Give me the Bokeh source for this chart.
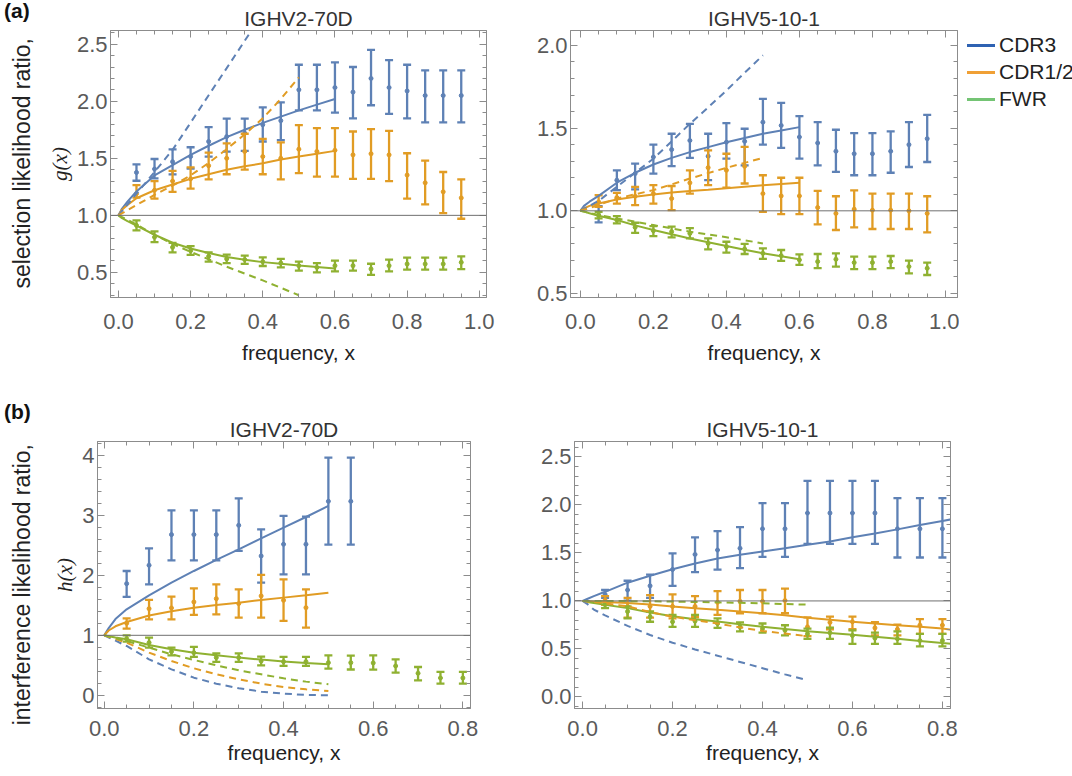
import numpy as np
from bokeh.plotting import figure
from bokeh.models import (Range1d, FixedTicker, LinearAxis, Span, Div,
                          PrintfTickFormatter, ColumnDataSource)
from bokeh.layouts import column, row
from bokeh.embed import file_html
from bokeh.resources import INLINE

# ---------------- data ----------------
SERIES = ["CDR3", "CDR1/2", "FWR"]
COLORS = {"CDR3": "#5E81B5", "CDR1/2": "#E19C24", "FWR": "#8FB131"}
LEGEND_COLORS = {"CDR3": "#2E62B2", "CDR1/2": "#F0A035", "FWR": "#74C474"}

X_A = [0.05, 0.10, 0.15, 0.20, 0.25, 0.30, 0.35, 0.40, 0.45, 0.50,
       0.55, 0.60, 0.65, 0.70, 0.75, 0.80, 0.85, 0.90, 0.95]
X_B = [0.05, 0.10, 0.15, 0.20, 0.25, 0.30, 0.35, 0.40,
       0.45, 0.50, 0.55, 0.60, 0.65, 0.70, 0.75, 0.80]

# (a) IGHV2-70D  selection likelihood ratio g(x)
a1_cdr3_c = [1.376, 1.406, 1.47, 1.515, 1.647, 1.69, 1.72, 1.794, 1.83, 2.10, 2.10, 2.12, 2.08, 2.20, 2.12, 2.09, 2.05, 2.05, 2.05]
a1_cdr3_lo = [1.303, 1.324, 1.359, 1.41, 1.515, 1.559, 1.565, 1.647, 1.66, 1.92, 1.92, 1.90, 1.85, 1.965, 1.89, 1.85, 1.815, 1.815, 1.815]
a1_cdr3_hi = [1.447, 1.494, 1.579, 1.597, 1.774, 1.847, 1.847, 1.947, 1.99, 2.32, 2.32, 2.34, 2.30, 2.45, 2.36, 2.32, 2.27, 2.27, 2.27]
a1_cdr12_c = [1.19, 1.22, 1.30, 1.32, 1.435, 1.50, 1.56, 1.515, 1.50, 1.58, 1.56, 1.57, 1.53, 1.54, 1.53, 1.353, 1.285, 1.206, 1.153]
a1_cdr12_lo = [1.156, 1.147, 1.206, 1.235, 1.315, 1.36, 1.40, 1.36, 1.315, 1.37, 1.34, 1.34, 1.32, 1.32, 1.30, 1.147, 1.097, 1.02, 0.97]
a1_cdr12_hi = [1.265, 1.30, 1.39, 1.42, 1.55, 1.63, 1.715, 1.67, 1.64, 1.79, 1.765, 1.765, 1.735, 1.756, 1.74, 1.544, 1.48, 1.38, 1.315]
a1_fwr_c = [0.912, 0.809, 0.72, 0.69, 0.641, 0.618, 0.612, 0.594, 0.582, 0.559, 0.544, 0.559, 0.559, 0.53, 0.559, 0.574, 0.574, 0.574, 0.588]
a1_fwr_lo = [0.868, 0.765, 0.676, 0.653, 0.594, 0.582, 0.574, 0.556, 0.544, 0.515, 0.50, 0.509, 0.515, 0.479, 0.509, 0.524, 0.524, 0.524, 0.529]
a1_fwr_hi = [0.956, 0.859, 0.759, 0.73, 0.676, 0.656, 0.647, 0.632, 0.618, 0.594, 0.582, 0.603, 0.603, 0.576, 0.612, 0.629, 0.629, 0.629, 0.641]

a1_fit_x = [0, 0.01, 0.025, 0.05, 0.1, 0.15, 0.2, 0.25, 0.3, 0.35, 0.4, 0.45, 0.5, 0.55, 0.6]
a1_cdr3_fit = [1.0, 1.06, 1.12, 1.21, 1.35, 1.44, 1.53, 1.61, 1.685, 1.75, 1.81, 1.865, 1.92, 1.97, 2.02]
a1_cdr12_fit = [1.0, 1.05, 1.09, 1.15, 1.22, 1.27, 1.32, 1.36, 1.40, 1.43, 1.456, 1.49, 1.515, 1.54, 1.565]
a1_fwr_fit = [1.0, 0.975, 0.95, 0.91, 0.83, 0.76, 0.71, 0.67, 0.635, 0.61, 0.59, 0.575, 0.56, 0.548, 0.535]
a1_dash_x = [0, 0.05, 0.1, 0.15, 0.2, 0.25, 0.3, 0.35, 0.4, 0.45, 0.5]
a1_cdr3_dash = [1.0, 1.19, 1.38, 1.574, 1.812, 2.053, 2.29, 2.53, 2.77, 3.0, 3.2]
a1_cdr12_dash = [1.0, 1.09, 1.18, 1.26, 1.35, 1.46, 1.58, 1.71, 1.85, 2.02, 2.21]
a1_fwr_dash = [1.0, 0.92, 0.83, 0.75, 0.68, 0.615, 0.55, 0.49, 0.43, 0.365, 0.30]

# (a) IGHV5-10-1
a2_cdr3_c = [0.974, 1.185, 1.225, 1.325, 1.37, 1.425, 1.33, 1.415, 1.42, 1.536, 1.516, 1.446, 1.41, 1.36, 1.345, 1.345, 1.36, 1.40, 1.436]
a2_cdr3_lo = [0.93, 1.125, 1.13, 1.225, 1.27, 1.32, 1.185, 1.315, 1.275, 1.40, 1.38, 1.315, 1.275, 1.235, 1.215, 1.215, 1.23, 1.265, 1.295]
a2_cdr3_hi = [1.028, 1.245, 1.285, 1.40, 1.466, 1.526, 1.466, 1.53, 1.496, 1.677, 1.653, 1.572, 1.536, 1.49, 1.47, 1.47, 1.48, 1.536, 1.58]
a2_cdr12_c = [1.054, 1.08, 1.088, 1.104, 1.074, 1.169, 1.261, 1.245, 1.269, 1.104, 1.09, 1.09, 1.02, 0.984, 1.01, 1.004, 1.004, 1.0, 0.984]
a2_cdr12_lo = [1.024, 1.044, 1.034, 1.044, 1.004, 1.104, 1.155, 1.14, 1.165, 0.994, 0.98, 0.98, 0.918, 0.884, 0.90, 0.89, 0.89, 0.89, 0.87]
a2_cdr12_hi = [1.094, 1.108, 1.145, 1.155, 1.15, 1.245, 1.365, 1.345, 1.386, 1.215, 1.2, 1.2, 1.12, 1.088, 1.124, 1.104, 1.104, 1.104, 1.088]
a2_fwr_c = [0.974, 0.944, 0.90, 0.88, 0.874, 0.863, 0.803, 0.783, 0.769, 0.743, 0.729, 0.703, 0.693, 0.707, 0.687, 0.687, 0.693, 0.663, 0.653]
a2_fwr_lo = [0.954, 0.924, 0.867, 0.847, 0.84, 0.833, 0.767, 0.747, 0.739, 0.709, 0.697, 0.673, 0.653, 0.663, 0.647, 0.647, 0.653, 0.622, 0.612]
a2_fwr_hi = [0.994, 0.968, 0.928, 0.908, 0.904, 0.895, 0.833, 0.813, 0.80, 0.773, 0.763, 0.737, 0.739, 0.743, 0.723, 0.723, 0.727, 0.699, 0.687]

a2_fit_x = [0, 0.01, 0.025, 0.05, 0.1, 0.15, 0.2, 0.25, 0.3, 0.35, 0.4, 0.45, 0.5, 0.55, 0.6]
a2_cdr3_fit = [1.0, 1.03, 1.055, 1.09, 1.17, 1.23, 1.28, 1.32, 1.355, 1.385, 1.415, 1.44, 1.466, 1.485, 1.506]
a2_cdr12_fit = [1.0, 1.015, 1.03, 1.044, 1.068, 1.085, 1.098, 1.11, 1.12, 1.128, 1.137, 1.146, 1.155, 1.162, 1.169]
a2_fwr_fit = [1.0, 0.995, 0.985, 0.97, 0.944, 0.912, 0.884, 0.858, 0.833, 0.81, 0.787, 0.765, 0.743, 0.725, 0.707]
a2_dash_x = [0, 0.05, 0.1, 0.15, 0.2, 0.25, 0.3, 0.35, 0.4, 0.45, 0.5]
a2_cdr3_dash = [1.0, 1.06, 1.145, 1.23, 1.315, 1.42, 1.526, 1.625, 1.727, 1.835, 1.94]
a2_cdr12_dash = [1.0, 1.035, 1.074, 1.10, 1.125, 1.16, 1.195, 1.228, 1.26, 1.29, 1.32]
a2_fwr_dash = [1.0, 0.975, 0.954, 0.934, 0.914, 0.894, 0.874, 0.857, 0.84, 0.822, 0.803]

# (b) IGHV2-70D  interference likelihood ratio h(x)
b1_cdr3_c = [1.861, 2.167, 2.678, 2.678, 2.678, 2.833, 2.322, 2.517, 2.517, 3.233, 3.233]
b1_cdr3_lo = [1.639, 1.85, 2.25, 2.25, 2.25, 2.406, 1.878, 2.017, 2.017, 2.511, 2.511]
b1_cdr3_hi = [2.072, 2.45, 3.083, 3.083, 3.083, 3.283, 2.767, 2.989, 2.978, 3.961, 3.961]
b1_cdr12_c = [1.2, 1.444, 1.456, 1.556, 1.611, 1.528, 1.656, 1.583, 1.461]
b1_cdr12_lo = [1.111, 1.267, 1.267, 1.339, 1.35, 1.294, 1.294, 1.239, 1.128]
b1_cdr12_hi = [1.283, 1.589, 1.644, 1.783, 1.85, 1.767, 2.006, 1.933, 1.767]
b1_fwr_c = [0.944, 0.878, 0.728, 0.711, 0.628, 0.628, 0.572, 0.561, 0.561, 0.544, 0.544, 0.539, 0.489, 0.367, 0.289, 0.289]
b1_fwr_lo = [0.894, 0.794, 0.667, 0.639, 0.556, 0.556, 0.50, 0.489, 0.489, 0.444, 0.43, 0.428, 0.378, 0.25, 0.194, 0.194]
b1_fwr_hi = [1.0, 0.961, 0.794, 0.806, 0.70, 0.70, 0.644, 0.639, 0.639, 0.667, 0.66, 0.667, 0.60, 0.472, 0.389, 0.389]

b1_fit_x = [0, 0.01, 0.025, 0.05, 0.1, 0.15, 0.2, 0.25, 0.3, 0.35, 0.4, 0.45, 0.5]
b1_cdr3_fit = [1.0, 1.12, 1.27, 1.433, 1.667, 1.878, 2.072, 2.256, 2.433, 2.617, 2.794, 2.972, 3.156]
b1_cdr12_fit = [1.0, 1.08, 1.15, 1.222, 1.33, 1.40, 1.461, 1.506, 1.544, 1.589, 1.628, 1.667, 1.711]
b1_fwr_fit = [1.0, 0.985, 0.965, 0.933, 0.839, 0.767, 0.711, 0.667, 0.628, 0.595, 0.565, 0.54, 0.517]
b1_dash_x = [0, 0.05, 0.1, 0.15, 0.2, 0.25, 0.3, 0.35, 0.4, 0.45, 0.5]
b1_cdr3_dash = [1.0, 0.822, 0.60, 0.433, 0.294, 0.194, 0.117, 0.061, 0.028, 0.006, 0.0]
b1_cdr12_dash = [1.0, 0.878, 0.711, 0.572, 0.45, 0.35, 0.267, 0.194, 0.139, 0.10, 0.072]
b1_fwr_dash = [1.0, 0.906, 0.794, 0.683, 0.589, 0.50, 0.417, 0.35, 0.283, 0.228, 0.183]

# (b) IGHV5-10-1
b2_cdr3_c = [1.068, 1.114, 1.157, 1.327, 1.484, 1.53, 1.548, 1.751, 1.751, 1.915, 1.915, 1.915, 1.915, 1.751, 1.751, 1.751]
b2_cdr3_lo = [1.032, 1.004, 1.032, 1.157, 1.30, 1.327, 1.342, 1.459, 1.459, 1.594, 1.594, 1.594, 1.594, 1.452, 1.452, 1.452]
b2_cdr3_hi = [1.114, 1.21, 1.274, 1.495, 1.662, 1.726, 1.769, 2.018, 2.018, 2.249, 2.249, 2.249, 2.249, 2.071, 2.071, 2.071]
b2_cdr12_c = [1.007, 0.943, 0.943, 0.943, 0.943, 0.986, 0.996, 0.996, 1.004, 0.73, 0.776, 0.783, 0.719, 0.705, 0.747, 0.747]
b2_cdr12_lo = [0.96, 0.826, 0.826, 0.819, 0.83, 0.854, 0.872, 0.872, 0.872, 0.633, 0.705, 0.705, 0.641, 0.641, 0.658, 0.658]
b2_cdr12_hi = [1.05, 1.032, 1.06, 1.068, 1.05, 1.103, 1.114, 1.114, 1.128, 0.829, 0.836, 0.836, 0.779, 0.754, 0.811, 0.811]
b2_fwr_c = [0.961, 0.89, 0.836, 0.783, 0.79, 0.765, 0.73, 0.712, 0.694, 0.658, 0.669, 0.64, 0.612, 0.605, 0.587, 0.587]
b2_fwr_lo = [0.925, 0.819, 0.783, 0.73, 0.73, 0.719, 0.683, 0.669, 0.641, 0.605, 0.605, 0.552, 0.552, 0.552, 0.527, 0.527]
b2_fwr_hi = [0.996, 0.943, 0.89, 0.854, 0.854, 0.819, 0.776, 0.765, 0.747, 0.712, 0.722, 0.694, 0.669, 0.683, 0.658, 0.658]

b2_fit_x = [0, 0.01, 0.025, 0.05, 0.1, 0.15, 0.2, 0.25, 0.3, 0.35, 0.4, 0.45, 0.5, 0.55, 0.6, 0.65, 0.7, 0.75, 0.8, 0.82]
b2_cdr3_fit = [1.0, 1.02, 1.05, 1.095, 1.19, 1.263, 1.33, 1.39, 1.441, 1.48, 1.515, 1.548, 1.584, 1.619, 1.662, 1.701, 1.745, 1.79, 1.833, 1.85]
b2_cdr12_fit = [1.0, 0.998, 0.995, 0.99, 0.979, 0.962, 0.943, 0.925, 0.907, 0.89, 0.872, 0.85, 0.825, 0.804, 0.783, 0.765, 0.747, 0.73, 0.712, 0.70]
b2_fwr_fit = [1.0, 0.99, 0.978, 0.96, 0.925, 0.88, 0.84, 0.81, 0.785, 0.758, 0.732, 0.708, 0.685, 0.666, 0.648, 0.627, 0.605, 0.584, 0.562, 0.555]
b2_dash_x = [0, 0.01, 0.025, 0.05, 0.1, 0.15, 0.2, 0.25, 0.3, 0.35, 0.4, 0.45, 0.5]
b2_cdr3_dash = [1.0, 0.97, 0.91, 0.85, 0.74, 0.645, 0.565, 0.495, 0.43, 0.365, 0.30, 0.235, 0.175]
b2_cdr12_dash = [1.0, 0.995, 0.99, 0.975, 0.943, 0.885, 0.836, 0.80, 0.765, 0.725, 0.687, 0.66, 0.633]
b2_fwr_dash = [1.0, 1.0, 1.0, 0.999, 0.998, 0.996, 0.993, 0.989, 0.985, 0.98, 0.975, 0.968, 0.961]

# ---------------- styling helpers ----------------
FONT = "Liberation Sans"
SERIF = "Liberation Serif"
FRAME = "#8c8c8c"
TICKLAB = "#5a5a5a"


def make_fig(width, height, mb, xr, yr, xmaj, xmin, ymaj, ymin, xfmt, yfmt,
             title, ylabel=None, tick_standoff=16, xlab_standoff=9):
    p = figure(width=width, height=height, output_backend="svg", toolbar_location=None,
               x_range=Range1d(*xr), y_range=Range1d(*yr),
               x_axis_type=None, y_axis_type=None,
               min_border_left=mb[0], min_border_right=mb[1],
               min_border_top=mb[2], min_border_bottom=mb[3])
    p.title.text = title
    p.title.align = "center"
    p.title.text_font = FONT
    p.title.text_font_size = "21px"
    p.title.text_font_style = "normal"
    p.title.text_color = "#333333"
    p.title.standoff = 2
    p.xgrid.visible = False
    p.ygrid.visible = False
    p.outline_line_color = FRAME
    p.outline_line_width = 1
    p.background_fill_color = "white"
    p.border_fill_color = "white"
    xt = FixedTicker(ticks=xmaj, minor_ticks=xmin)
    yt = FixedTicker(ticks=ymaj, minor_ticks=ymin)
    bottom = LinearAxis(ticker=xt, formatter=PrintfTickFormatter(format=xfmt))
    left = LinearAxis(ticker=yt, formatter=PrintfTickFormatter(format=yfmt))
    top = LinearAxis(ticker=xt)
    right = LinearAxis(ticker=yt)
    p.add_layout(bottom, "below")
    p.add_layout(left, "left")
    p.add_layout(top, "above")
    p.add_layout(right, "right")
    for ax in [bottom, left, top, right]:
        ax.axis_line_color = FRAME
        ax.major_tick_line_color = FRAME
        ax.minor_tick_line_color = FRAME
        ax.major_tick_in = 7
        ax.major_tick_out = 0
        ax.minor_tick_in = 4
        ax.minor_tick_out = 0
        ax.major_label_text_font = FONT
        ax.major_label_text_font_size = "22px"
        ax.major_label_text_color = TICKLAB
    for ax in [top, right]:
        ax.major_label_text_color = None
        ax.major_label_text_font_size = "1px"
        ax.major_label_standoff = 0
    bottom.major_label_standoff = tick_standoff
    left.major_label_standoff = 3
    bottom.axis_label = "frequency, x"
    bottom.axis_label_text_font = FONT
    bottom.axis_label_text_font_size = "21px"
    bottom.axis_label_text_font_style = "normal"
    bottom.axis_label_text_color = "#222222"
    bottom.axis_label_standoff = xlab_standoff
    if ylabel:
        left.axis_label = ylabel
        left.axis_label_text_font = SERIF
        left.axis_label_text_font_size = "21px"
        left.axis_label_text_font_style = "italic"
        left.axis_label_text_color = "#222222"
        left.axis_label_standoff = 2
    p.add_layout(Span(location=1.0, dimension="width", line_color="#707070", line_width=1))
    return p


def add_series(p, x, c, lo, hi, color):
    src = ColumnDataSource(dict(x=x, c=c, lo=lo, hi=hi))
    p.segment(x0="x", y0="lo", x1="x", y1="hi", source=src, line_color=color, line_width=2.3)
    p.scatter(x="x", y="lo", source=src, marker="dash", size=8, line_color=color, line_width=2.3)
    p.scatter(x="x", y="hi", source=src, marker="dash", size=8, line_color=color, line_width=2.3)
    p.scatter(x="x", y="c", source=src, marker="circle", size=4, line_color=color, fill_color=color)


def add_curve(p, x, y, color, dashed=False):
    if dashed:
        p.line(x, y, line_color=color, line_width=2, line_dash="7 5")
    else:
        p.line(x, y, line_color=color, line_width=2)


def side_div(tag, tag_top, text, center_y, height, width=34):
    html = (
        f'<div style="position:relative;width:{width}px;height:{height}px;'
        f"font-family:'Liberation Sans',Arial,sans-serif;color:#222;\">"
        f'<div style="position:absolute;left:-1px;top:{tag_top}px;font-size:21px;'
        f'font-weight:bold;line-height:22px;color:#111;">{tag}</div>'
        f'<div style="position:absolute;left:0;top:{center_y - 170}px;width:{width}px;height:340px;'
        f'display:flex;align-items:center;justify-content:center;">'
        f'<span style="writing-mode:vertical-rl;transform:rotate(180deg);font-size:23px;'
        f'line-height:26px;white-space:nowrap;">{text}</span></div></div>'
    )
    return Div(text=html, width=width, height=height)


def legend_div(width, height, first_top, step):
    parts = [f'<div style="position:relative;width:{width}px;height:{height}px;'
             f"font-family:'Liberation Sans',Arial,sans-serif;font-size:21px;color:#222;\">"]
    for i, s in enumerate(SERIES):
        parts.append(
            f'<div style="position:absolute;left:3px;top:{first_top + step * i}px;height:24px;'
            f'display:flex;align-items:center;white-space:nowrap;">'
            f'<span style="display:inline-block;width:28px;height:0;border-top:3px solid {LEGEND_COLORS[s]};'
            f'margin-right:4px;"></span><span>{s}</span></div>')
    parts.append('</div>')
    return Div(text="".join(parts), width=width, height=height)


XMAJ_A = [0.0, 0.2, 0.4, 0.6, 0.8, 1.0]
XMIN_A = [round(v, 3) for v in np.arange(-0.05, 1.05, 0.05)]
XMAJ_B = [0.0, 0.2, 0.4, 0.6, 0.8]
XMIN_B = [round(v, 3) for v in np.arange(-0.05, 0.85, 0.05)]

# ---------------- figures ----------------
a1 = make_fig(458, 380, (60, 16, 30, 83), (-0.022, 1.02), (0.28, 2.62),
              XMAJ_A, XMIN_A, [0.5, 1.0, 1.5, 2.0, 2.5],
              [round(v, 2) for v in np.arange(0.3, 2.65, 0.1)], "%.1f", "%.1f",
              "IGHV2-70D", ylabel="g(x)")
a2 = make_fig(457, 380, (68, 2, 30, 83), (-0.027, 1.033), (0.476, 2.09),
              XMAJ_A, XMIN_A, [0.5, 1.0, 1.5, 2.0],
              [round(v, 2) for v in np.arange(0.5, 2.15, 0.1)], "%.1f", "%.1f",
              "IGHV5-10-1")
b1 = make_fig(458, 380, (53, 32, 51, 62), (-0.015, 0.817), (-0.22, 4.23),
              XMAJ_B, XMIN_B, [0, 1, 2, 3, 4],
              [round(v, 2) for v in np.arange(-0.2, 4.25, 0.2)], "%.1f", "%d",
              "IGHV2-70D", ylabel="h(x)", tick_standoff=12, xlab_standoff=2)
b2 = make_fig(564, 380, (72, 116, 51, 62), (-0.018, 0.818), (-0.12, 2.66),
              XMAJ_B, XMIN_B, [0.0, 0.5, 1.0, 1.5, 2.0, 2.5],
              [round(v, 2) for v in np.arange(-0.1, 2.65, 0.1)], "%.1f", "%.1f",
              "IGHV5-10-1", tick_standoff=12, xlab_standoff=2)

panels = [
    (a1, X_A, X_A, X_A,
     [(a1_cdr3_c, a1_cdr3_lo, a1_cdr3_hi), (a1_cdr12_c, a1_cdr12_lo, a1_cdr12_hi), (a1_fwr_c, a1_fwr_lo, a1_fwr_hi)],
     a1_fit_x, [a1_cdr3_fit, a1_cdr12_fit, a1_fwr_fit], a1_dash_x, [a1_cdr3_dash, a1_cdr12_dash, a1_fwr_dash]),
    (a2, X_A, X_A, X_A,
     [(a2_cdr3_c, a2_cdr3_lo, a2_cdr3_hi), (a2_cdr12_c, a2_cdr12_lo, a2_cdr12_hi), (a2_fwr_c, a2_fwr_lo, a2_fwr_hi)],
     a2_fit_x, [a2_cdr3_fit, a2_cdr12_fit, a2_fwr_fit], a2_dash_x, [a2_cdr3_dash, a2_cdr12_dash, a2_fwr_dash]),
    (b1, X_B[:11], X_B[:9], X_B,
     [(b1_cdr3_c, b1_cdr3_lo, b1_cdr3_hi), (b1_cdr12_c, b1_cdr12_lo, b1_cdr12_hi), (b1_fwr_c, b1_fwr_lo, b1_fwr_hi)],
     b1_fit_x, [b1_cdr3_fit, b1_cdr12_fit, b1_fwr_fit], b1_dash_x, [b1_cdr3_dash, b1_cdr12_dash, b1_fwr_dash]),
    (b2, X_B, X_B, X_B,
     [(b2_cdr3_c, b2_cdr3_lo, b2_cdr3_hi), (b2_cdr12_c, b2_cdr12_lo, b2_cdr12_hi), (b2_fwr_c, b2_fwr_lo, b2_fwr_hi)],
     b2_fit_x, [b2_cdr3_fit, b2_cdr12_fit, b2_fwr_fit], b2_dash_x, [b2_cdr3_dash, b2_cdr12_dash, b2_fwr_dash]),
]

for p, x3, x12, xf, pts, fx, fits, dx, dashes in panels:
    for s, xs, (c, lo, hi) in zip(SERIES, [x3, x12, xf], pts):
        add_series(p, xs, c, lo, hi, COLORS[s])
    for s, y in zip(SERIES, fits):
        add_curve(p, fx, y, COLORS[s])
    for s, y in zip(SERIES, dashes):
        add_curve(p, dx, y, COLORS[s], dashed=True)

divA = side_div("(a)", -5, "selection likelihood ratio,", 158, 380)
divB = side_div("(b)", 6, "interference likelihood ratio,", 190, 380)
legA = legend_div(107, 380, 28, 27)

layout = column(row(divA, a1, a2, legA), row(divB, b1, b2))
open("out.html", "w").write(file_html(layout, INLINE))
